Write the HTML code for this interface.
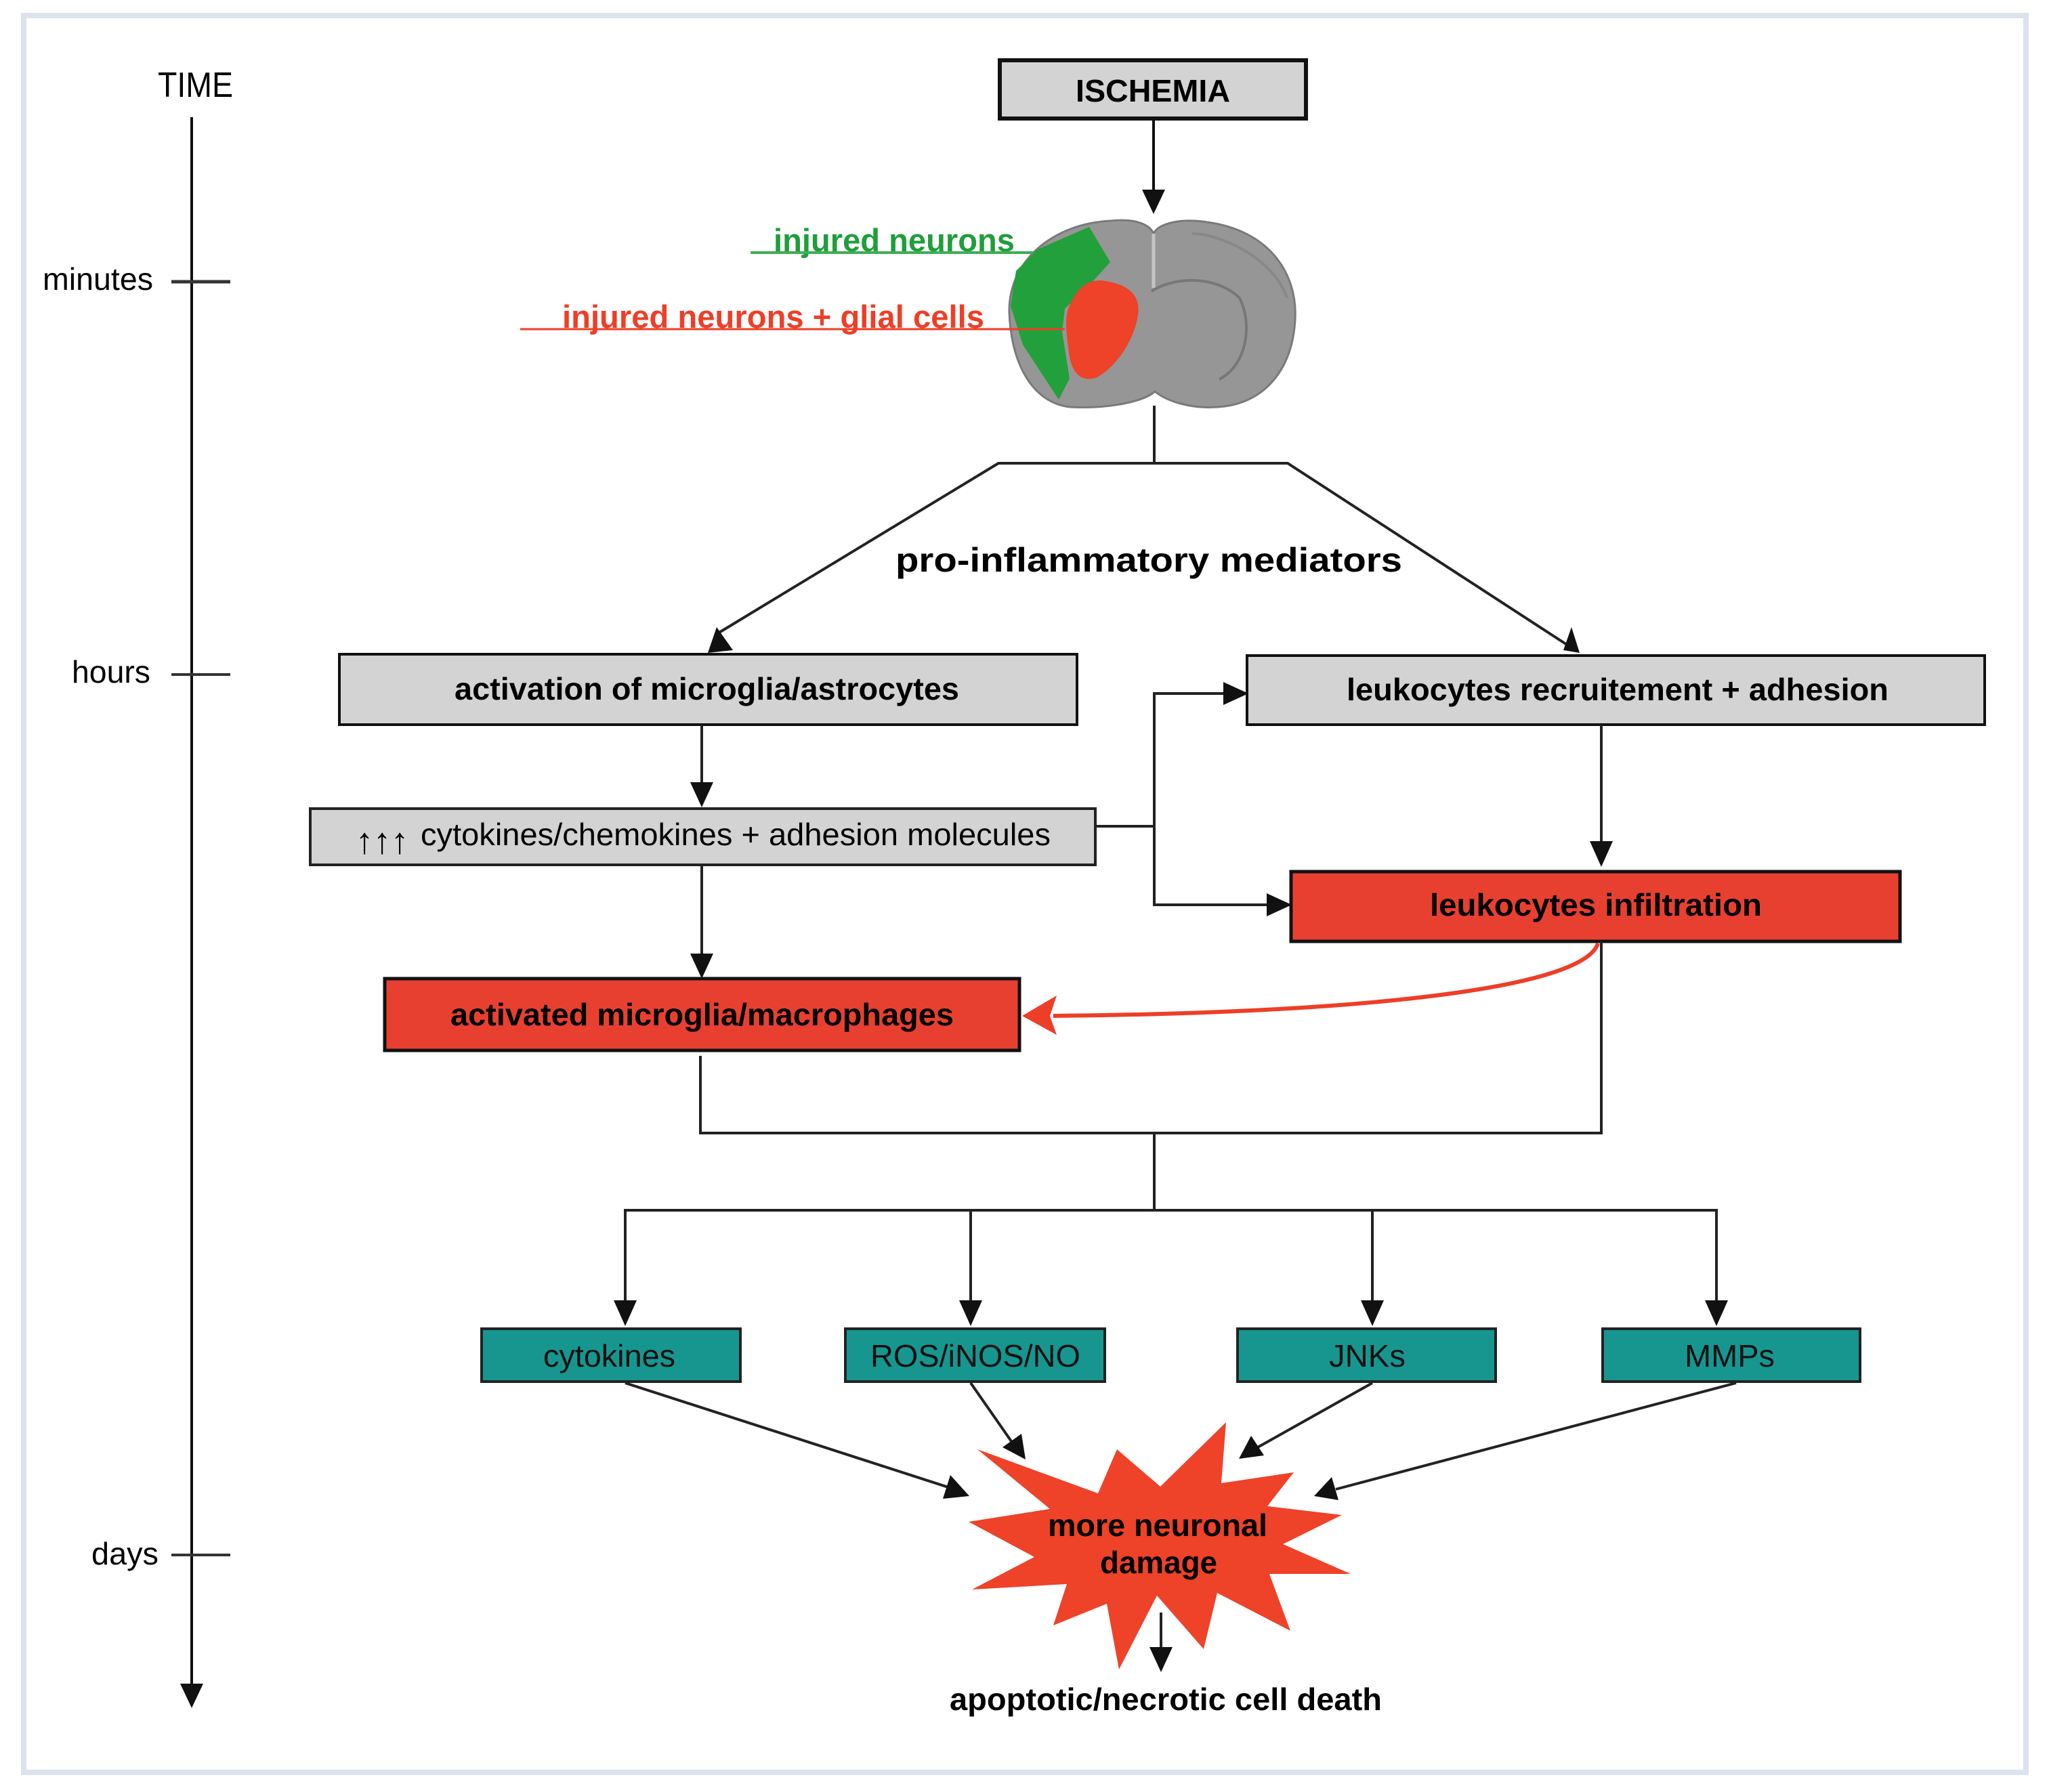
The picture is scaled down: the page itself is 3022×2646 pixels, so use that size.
<!DOCTYPE html>
<html><head><meta charset="utf-8"><style>
html,body{margin:0;padding:0;background:#fff}
svg{display:block}
text{font-family:"Liberation Sans",Arial,sans-serif}
</style></head><body>
<svg width="3022" height="2646" viewBox="0 0 3022 2646" xmlns="http://www.w3.org/2000/svg">
<rect x="0" y="0" width="3022" height="2646" fill="#fff"/>
<rect x="35" y="23" width="2956" height="2594" fill="none" stroke="#dde2ef" stroke-width="8"/>

<!-- time axis -->
<text x="233" y="143" font-size="52" textLength="111" lengthAdjust="spacingAndGlyphs">TIME</text>
<line x1="283" y1="173" x2="283" y2="2490" stroke="#111" stroke-width="4"/>
<polygon points="266,2486 300,2486 283,2522" fill="#111"/>
<text x="63" y="428" font-size="46" textLength="163" lengthAdjust="spacingAndGlyphs">minutes</text>
<line x1="253" y1="416" x2="340" y2="416" stroke="#333" stroke-width="5"/>
<text x="106" y="1008" font-size="46" textLength="116" lengthAdjust="spacingAndGlyphs">hours</text>
<line x1="253" y1="996" x2="340" y2="996" stroke="#333" stroke-width="4"/>
<text x="135" y="2310" font-size="46" textLength="99" lengthAdjust="spacingAndGlyphs">days</text>
<line x1="253" y1="2296" x2="340" y2="2296" stroke="#333" stroke-width="4"/>

<!-- ISCHEMIA -->
<rect x="1476" y="89" width="452" height="86" fill="#d3d3d3" stroke="#111" stroke-width="6"/>
<text x="1702" y="150" font-size="46" font-weight="bold" text-anchor="middle" textLength="228" lengthAdjust="spacingAndGlyphs">ISCHEMIA</text>
<line x1="1703" y1="178" x2="1703" y2="285" stroke="#111" stroke-width="4"/>
<polygon points="1686,280 1720,280 1703,316" fill="#111"/>

<!-- brain -->
<path d="M1490,462 C1488,385 1555,330 1640,326 C1680,322 1698,333 1703,345 C1710,330 1742,322 1782,328 C1872,340 1916,402 1912,472 C1908,545 1868,592 1808,600 C1760,606 1722,592 1705,578 C1690,592 1640,604 1580,601 C1528,596 1493,542 1490,462Z" fill="#969696" stroke="#7a7a7a" stroke-width="3"/>
<path d="M1703,345 L1703,425" stroke="#c4c4c4" stroke-width="5"/>
<path d="M1700,430 C1740,405 1800,410 1830,440 C1850,480 1840,540 1800,560" fill="none" stroke="#777" stroke-width="4"/>
<path d="M1900,440 C1880,380 1800,345 1760,345" fill="none" stroke="#888" stroke-width="4"/>
<polygon points="1608,335 1639,387 1612,417 1572,456 1568,490 1579,559 1563,590 1510,509 1492,452 1500,400 1532,368" fill="#22a03c"/>
<path d="M1625,414 C1660,418 1685,432 1680,465 C1675,500 1650,540 1620,557 C1600,565 1582,555 1578,520 C1574,490 1570,465 1582,445 C1592,425 1605,414 1625,414Z" fill="#ee4229"/>

<text x="1142" y="371" font-size="47" font-weight="bold" fill="#1f9e3a" textLength="356" lengthAdjust="spacingAndGlyphs">injured neurons</text>
<line x1="1108" y1="373" x2="1525" y2="373" stroke="#3fae55" stroke-width="4"/>
<text x="830" y="484" font-size="47" font-weight="bold" fill="#ee3e27" textLength="623" lengthAdjust="spacingAndGlyphs">injured neurons + glial cells</text>
<line x1="768" y1="486" x2="1572" y2="486" stroke="#ee3e27" stroke-width="3"/>

<!-- split -->
<line x1="1704" y1="599" x2="1704" y2="684" stroke="#222" stroke-width="4"/>
<polyline points="1060,935 1474,684 1901,684 2318,955" fill="none" stroke="#222" stroke-width="4"/>
<polygon points="1045,964 1058,926 1082,960" fill="#111"/>
<polygon points="2332,964 2308,960 2320,926" fill="#111"/>
<text x="1322" y="844" font-size="50" font-weight="bold" textLength="748" lengthAdjust="spacingAndGlyphs">pro-inflammatory mediators</text>

<!-- activation box -->
<rect x="501" y="966" width="1089" height="104" fill="#d3d3d3" stroke="#111" stroke-width="4"/>
<text x="671" y="1033" font-size="46" font-weight="bold" textLength="745" lengthAdjust="spacingAndGlyphs">activation of microglia/astrocytes</text>
<!-- leukocytes recruitement -->
<rect x="1841" y="968" width="1089" height="102" fill="#d3d3d3" stroke="#111" stroke-width="4"/>
<text x="1988" y="1034" font-size="46" font-weight="bold" textLength="800" lengthAdjust="spacingAndGlyphs">leukocytes recruitement + adhesion</text>

<line x1="1036" y1="1070" x2="1036" y2="1160" stroke="#222" stroke-width="4"/>
<polygon points="1019,1155 1053,1155 1036,1192" fill="#111"/>

<!-- cytokines/chemokines -->
<rect x="458" y="1194" width="1159" height="83" fill="#d3d3d3" stroke="#222" stroke-width="4"/>
<text x="525" y="1260" font-size="54" textLength="78" lengthAdjust="spacingAndGlyphs">↑↑↑</text>
<text x="621" y="1248" font-size="46" textLength="930" lengthAdjust="spacingAndGlyphs">cytokines/chemokines + adhesion molecules</text>

<polyline points="1617,1220 1704,1220" fill="none" stroke="#222" stroke-width="4"/>
<polyline points="1810,1024 1704,1024 1704,1336 1875,1336" fill="none" stroke="#222" stroke-width="4"/>
<polygon points="1806,1007 1806,1041 1843,1024" fill="#111"/>
<polygon points="1870,1319 1870,1353 1907,1336" fill="#111"/>

<line x1="2364" y1="1070" x2="2364" y2="1245" stroke="#222" stroke-width="4"/>
<polygon points="2347,1242 2381,1242 2364,1280" fill="#111"/>

<!-- leukocytes infiltration -->
<rect x="1906" y="1287" width="899" height="103" fill="#e84030" stroke="#111" stroke-width="5"/>
<text x="2356" y="1352" font-size="46" font-weight="bold" text-anchor="middle" textLength="490" lengthAdjust="spacingAndGlyphs">leukocytes infiltration</text>

<line x1="1036" y1="1277" x2="1036" y2="1412" stroke="#222" stroke-width="4"/>
<polygon points="1019,1408 1053,1408 1036,1445" fill="#111"/>

<!-- activated microglia -->
<rect x="568" y="1445" width="937" height="106" fill="#e84030" stroke="#111" stroke-width="5"/>
<text x="665" y="1514" font-size="46" font-weight="bold" textLength="743" lengthAdjust="spacingAndGlyphs">activated microglia/macrophages</text>

<!-- red curve -->
<path d="M2359,1393 C2340,1455 2050,1495 1555,1500" fill="none" stroke="#ee3e27" stroke-width="6"/>
<polygon points="1509,1500 1560,1470 1550,1500 1560,1528" fill="#ee3e27"/>

<!-- merge -->
<polyline points="1034,1559 1034,1673 2364,1673 2364,1390" fill="none" stroke="#222" stroke-width="4"/>
<line x1="1704" y1="1673" x2="1704" y2="1787" stroke="#222" stroke-width="4"/>
<polyline points="923,1925 923,1787 2534,1787 2534,1925" fill="none" stroke="#222" stroke-width="4"/>
<line x1="1433" y1="1787" x2="1433" y2="1925" stroke="#222" stroke-width="4"/>
<line x1="2026" y1="1787" x2="2026" y2="1925" stroke="#222" stroke-width="4"/>
<polygon points="906,1920 940,1920 923,1958" fill="#111"/>
<polygon points="1416,1920 1450,1920 1433,1958" fill="#111"/>
<polygon points="2009,1920 2043,1920 2026,1958" fill="#111"/>
<polygon points="2517,1920 2551,1920 2534,1958" fill="#111"/>

<!-- teal boxes -->
<g fill="#179690" stroke="#222" stroke-width="4">
<rect x="711" y="1962" width="382" height="78"/>
<rect x="1248" y="1962" width="383" height="78"/>
<rect x="1827" y="1962" width="381" height="78"/>
<rect x="2366" y="1962" width="380" height="78"/>
</g>
<g font-size="46" fill="#111">
<text x="802" y="2018" textLength="195" lengthAdjust="spacingAndGlyphs">cytokines</text>
<text x="1285" y="2018" textLength="310" lengthAdjust="spacingAndGlyphs">ROS/iNOS/NO</text>
<text x="1962" y="2018" textLength="113" lengthAdjust="spacingAndGlyphs">JNKs</text>
<text x="2487" y="2018" textLength="133" lengthAdjust="spacingAndGlyphs">MMPs</text>
</g>

<!-- star -->
<polygon points="1443,2140 1621,2205 1649,2140 1713,2195 1810,2100 1803,2190 1910,2174 1871,2224 1981,2237 1894,2280 1994,2324 1874,2324 1905,2408 1797,2352 1777,2435 1708,2356 1652,2465 1634,2368 1555,2400 1575,2339 1435,2347 1527,2299 1430,2247 1550,2228" fill="#ee4229"/>
<text x="1547" y="2268" font-size="46" font-weight="bold" textLength="324" lengthAdjust="spacingAndGlyphs">more neuronal</text>
<text x="1624" y="2323" font-size="46" font-weight="bold" textLength="173" lengthAdjust="spacingAndGlyphs">damage</text>

<!-- arrows to star -->
<g stroke="#222" stroke-width="4">
<line x1="923" y1="2042" x2="1400" y2="2196"/>
<line x1="1433" y1="2042" x2="1495" y2="2131"/>
<line x1="2026" y1="2042" x2="1855" y2="2138"/>
<line x1="2563" y1="2042" x2="1972" y2="2199"/>
<line x1="1714" y1="2381" x2="1714" y2="2440"/>
</g>
<polygon points="1431,2209 1392,2213 1403,2178" fill="#111"/>
<polygon points="1514,2155 1480,2137 1508,2117" fill="#111"/>
<polygon points="1829,2154 1847,2120 1866,2149" fill="#111"/>
<polygon points="1940,2209 1966,2181 1976,2215" fill="#111"/>
<polygon points="1697,2432 1731,2432 1714,2469" fill="#111"/>

<text x="1402" y="2525" font-size="46" font-weight="bold" textLength="638" lengthAdjust="spacingAndGlyphs">apoptotic/necrotic cell death</text>
</svg>
</body></html>
